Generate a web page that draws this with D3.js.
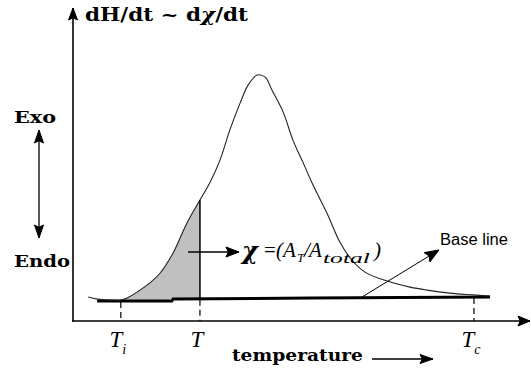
<!DOCTYPE html>
<html><head><meta charset="utf-8">
<script src="https://cdn.jsdelivr.net/npm/d3@7"></script>
<style>body{margin:0;background:#fff}svg{display:block}</style>
</head><body>
<script>
// ---- data (temperature units 0..100, signal units 0..100) ----
const curveT = [3.4,5.4,8.3,10.7,12.1,15.0,17.2,19.5,22.4,25.5,28.4,30.7,32.9,35.1,37.4,39.2,41.2,43.0,44.5,47.0,49.2,51.5,53.7,56.8,59.7,62.0,65.3,70.3,75.4,79.2,84.3,89.5,93.3];
const curveS = [8.0,7.3,7.0,7.0,7.7,10.3,12.7,16.0,22.7,32.7,40.3,46.3,53.7,63.7,72.7,78.7,82.0,81.3,77.0,69.7,60.3,52.7,45.3,36.0,26.3,21.0,16.3,13.3,11.3,10.3,9.3,8.7,8.3];
const baseT = [5.4,22.1,22.4,53.4,93.3];
const baseS = [6.7,6.7,7.3,7.7,8.0];
const tickT = [10.7,28.4,89.7];
const tickMain = ["T","T","T"];
const tickSub = ["i","","c"];
const convT = 28.4;       // current temperature T
const shadeStart = 10.7;  // onset Ti

const W=531,H=375;
const x = d3.scaleLinear().domain([0,100]).range([73,520]);
const y = d3.scaleLinear().domain([0,100]).range([321,21]);
const baseAt = d3.scaleLinear().domain(baseT).range(baseS);
const curveAt = d3.scaleLinear().domain(curveT).range(curveS);
const SERIF = "'DejaVu Serif', serif";
const ITAL = "'Liberation Serif', 'DejaVu Serif', serif";

const svg = d3.select("body").append("svg").attr("width",W).attr("height",H);

// arrow: line from (x1,y1) to tip (x2,y2) with filled head
function arrow(x1,y1,x2,y2,sw,len,wid,both){
  svg.append("line").attr("x1",x1).attr("y1",y1).attr("x2",x2).attr("y2",y2)
    .attr("stroke","#000").attr("stroke-width",sw);
  const head=(ax,ay,bx,by)=>{
    const a=Math.atan2(by-ay,bx-ax), c=Math.cos(a), s=Math.sin(a);
    const bxp=bx-len*c, byp=by-len*s, nx=-s*wid/2, ny=c*wid/2;
    const ix=bx-len*0.82*c, iy=by-len*0.82*s;
    svg.append("path").attr("d",`M${bx},${by}L${bxp+nx},${byp+ny}L${ix},${iy}L${bxp-nx},${byp-ny}Z`)
      .attr("fill","#000").attr("stroke","#000").attr("stroke-width",1).attr("stroke-linejoin","round");
  };
  head(x1,y1,x2,y2);
  if(both) head(x2,y2,x1,y1);
}

// shaded area
const shadePts = curveT.map((t,i)=>[t,curveS[i]]).filter(d=>d[0]>=shadeStart && d[0]<=convT);
svg.append("path").datum(shadePts)
  .attr("d",d3.area().x(d=>x(d[0])).y0(d=>y(baseAt(d[0]))).y1(d=>y(d[1])).curve(d3.curveMonotoneX))
  .attr("fill","#c0c0c0");

// baseline (thick)
svg.append("path").datum(baseT.map((t,i)=>[t,baseS[i]]))
  .attr("d",d3.line().x(d=>x(d[0])).y(d=>y(d[1])))
  .attr("fill","none").attr("stroke","#000").attr("stroke-width",3);

// DSC curve
svg.append("path").datum(curveT.map((t,i)=>[t,curveS[i]]))
  .attr("d",d3.line().x(d=>x(d[0])).y(d=>y(d[1])).curve(d3.curveCatmullRom))
  .attr("fill","none").attr("stroke","#222").attr("stroke-width",1.1);

// vertical line at T
svg.append("line").attr("x1",x(convT)).attr("x2",x(convT))
  .attr("y1",y(curveAt(convT))).attr("y2",y(baseAt(convT)))
  .attr("stroke","#000").attr("stroke-width",1.5);

// axes
arrow(x(0)-0.8,y(0),530,y(0),1.6,12,10);
arrow(x(0),y(0)+0.8,x(0),8,1.6,12,9);

// dashed ticks
tickT.forEach((t,i)=>{
  svg.append("line").attr("x1",x(t)).attr("x2",x(t)).attr("y1",y(baseAt(Math.min(Math.max(t,baseT[0]),baseT[baseT.length-1])))+1).attr("y2",y(0))
    .attr("stroke","#000").attr("stroke-width",1.2).attr("stroke-dasharray","6,4");
  const g = svg.append("text").attr("x",x(t)-3).attr("y",347)
    .attr("font-family",ITAL).attr("font-style","italic").attr("font-size",23)
    .attr("text-anchor","middle");
  g.append("tspan").text(tickMain[i]);
  if(tickSub[i]) g.append("tspan").attr("font-size",14).attr("dy",7).text(tickSub[i]);
});

// y-axis title
const title = svg.append("text").attr("x",85).attr("y",21).attr("textLength",163).attr("lengthAdjust","spacingAndGlyphs")
  .attr("font-family",SERIF).attr("font-weight","bold").attr("font-size",19);
title.append("tspan").text("dH/dt ~ d");
title.append("tspan").attr("font-style","italic").text("χ");
title.append("tspan").text("/dt");

// x label
svg.append("text").attr("x",232).attr("y",361).attr("textLength",131).attr("lengthAdjust","spacingAndGlyphs")
  .attr("font-family",SERIF).attr("font-weight","bold").attr("font-size",17).text("temperature");
arrow(372,359,433,359,1.3,13,9);

// Exo / Endo
svg.append("text").attr("x",14).attr("y",123).attr("textLength",42).attr("lengthAdjust","spacingAndGlyphs")
  .attr("font-family",SERIF).attr("font-weight","bold").attr("font-size",17).text("Exo");
svg.append("text").attr("x",14).attr("y",267).attr("textLength",56).attr("lengthAdjust","spacingAndGlyphs")
  .attr("font-family",SERIF).attr("font-weight","bold").attr("font-size",17).text("Endo");
arrow(39,130,39,238,1.3,13,9,true);

// conversion arrow + formula
arrow(188,252,239,252,1.4,13,10);
svg.append("text").attr("x",242).attr("y",259)
  .attr("font-family",SERIF).attr("font-style","italic").attr("font-weight","bold").attr("font-size",24).text("χ");
const fparts = [
  {t:"=", x:264, dy:0, fs:21, it:false},
  {t:"(", x:276, dy:0, fs:21, it:true},
  {t:"A", x:283, dy:0, fs:21, it:true},
  {t:"T", x:297, dy:5, fs:13, it:true},
  {t:"/", x:304, dy:0, fs:21, it:true},
  {t:"A", x:309, dy:0, fs:21, it:true},
  {t:"total", x:323, dy:6, fs:15, it:true, len:47},
  {t:")", x:374, dy:0, fs:21, it:true}
];
fparts.forEach(p=>{
  const tx = svg.append("text").attr("x",p.x).attr("y",257+p.dy)
    .attr("font-family",ITAL).attr("font-style",p.it?"italic":"normal").attr("font-size",p.fs).text(p.t);
  if(p.len) tx.attr("textLength",p.len).attr("lengthAdjust","spacingAndGlyphs");
});

// base line annotation
arrow(362,297,439,250,1,14,11);
svg.append("text").attr("x",440).attr("y",245).attr("textLength",68).attr("lengthAdjust","spacingAndGlyphs")
  .attr("font-family","'Liberation Sans', sans-serif").attr("font-size",16).text("Base line");
</script>
</body></html>
